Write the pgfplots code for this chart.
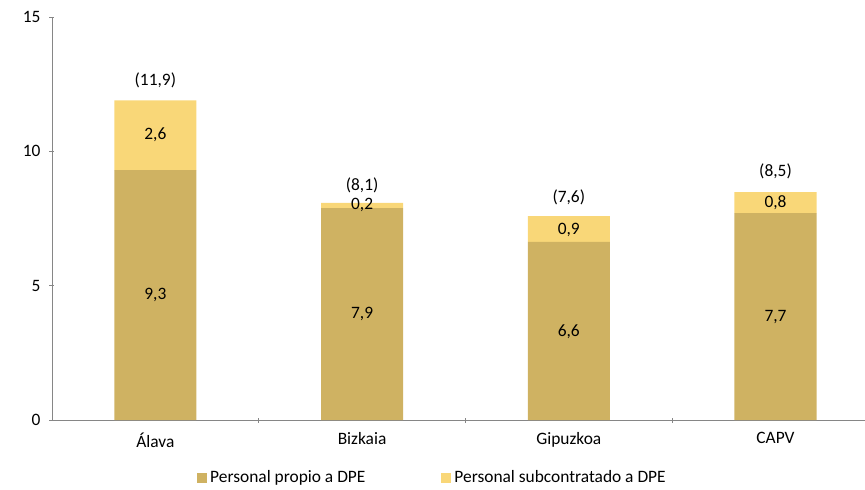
\documentclass[border=0pt]{standalone}
\usepackage{pgfplots}
\pgfplotsset{compat=1.18}
\usepackage{fontspec}
\setmainfont{Carlito}
\definecolor{darkgold}{RGB}{207,178,98}
\definecolor{lightgold}{RGB}{249,215,120}
\definecolor{axgray}{RGB}{134,134,134}
\newcommand{\chfont}{\fontsize{17.4bp}{19bp}\selectfont}
\begin{document}
\begin{tikzpicture}
\chfont
\begin{axis}[
  scale only axis,
  width=813bp, height=403bp,
  ybar stacked,
  bar width=0.397,
  xmin=-0.5, xmax=3.433,
  ymin=0, ymax=15,
  ytick={0,5,10,15},
  xtick={0,1,2,3},
  xticklabels={Álava,Bizkaia,Gipuzkoa,CAPV},
  minor xtick={0.5,1.5,2.5},
  major x tick style={draw=none},
  minor tick length=5bp,
  major tick length=5bp,
  tick align=outside,
  axis x line=bottom, axis y line=left,
  axis line style={-, axgray, line width=1pt},
  tick style={axgray, line width=1pt},
  every tick label/.append style={font=\chfont, text=black},
  /pgf/number format/assume math mode=true,
  xticklabel style={yshift=-4bp},
  yticklabel style={xshift=-3bp},
  clip=false,
  legend columns=2,
  legend style={draw=none, at={(0.468,-0.143)}, anchor=center,
    font=\chfont,
    /tikz/every odd column/.append style={column sep=1bp},
    /tikz/every even column/.append style={column sep=74bp}},
  legend image code/.code={\fill[#1,draw=none] (0bp,-5bp) rectangle (10bp,5bp);},
  after end axis/.code={
    \node at (axis cs:0,4.65) {9,3};
    \node at (axis cs:0,10.6) {2,6};
    \node at (axis cs:0,12.65) {(11,9)};
    \node at (axis cs:1,3.95) {7,9};
    \node at (axis cs:1,8.02) {0,2};
    \node at (axis cs:1,8.75) {(8,1)};
    \node at (axis cs:2,3.3) {6,6};
    \node at (axis cs:2,7.08) {0,9};
    \node at (axis cs:2,8.27) {(7,6)};
    \node at (axis cs:3,3.85) {7,7};
    \node at (axis cs:3,8.1) {0,8};
    \node at (axis cs:3,9.27) {(8,5)};
  },
]
\addplot[fill=darkgold, draw=none] coordinates {(0,9.3) (1,7.89) (2,6.63) (3,7.7)};
\addlegendentry{Personal propio a DPE}
\addplot[fill=lightgold, draw=none] coordinates {(0,2.6) (1,0.19) (2,0.96) (3,0.78)};
\addlegendentry{Personal subcontratado a DPE}
\end{axis}
\pgfresetboundingbox
\path ([xshift=-52bp,yshift=-70bp]current axis.south west) rectangle ([yshift=17bp]current axis.north east);
\end{tikzpicture}
\end{document}
